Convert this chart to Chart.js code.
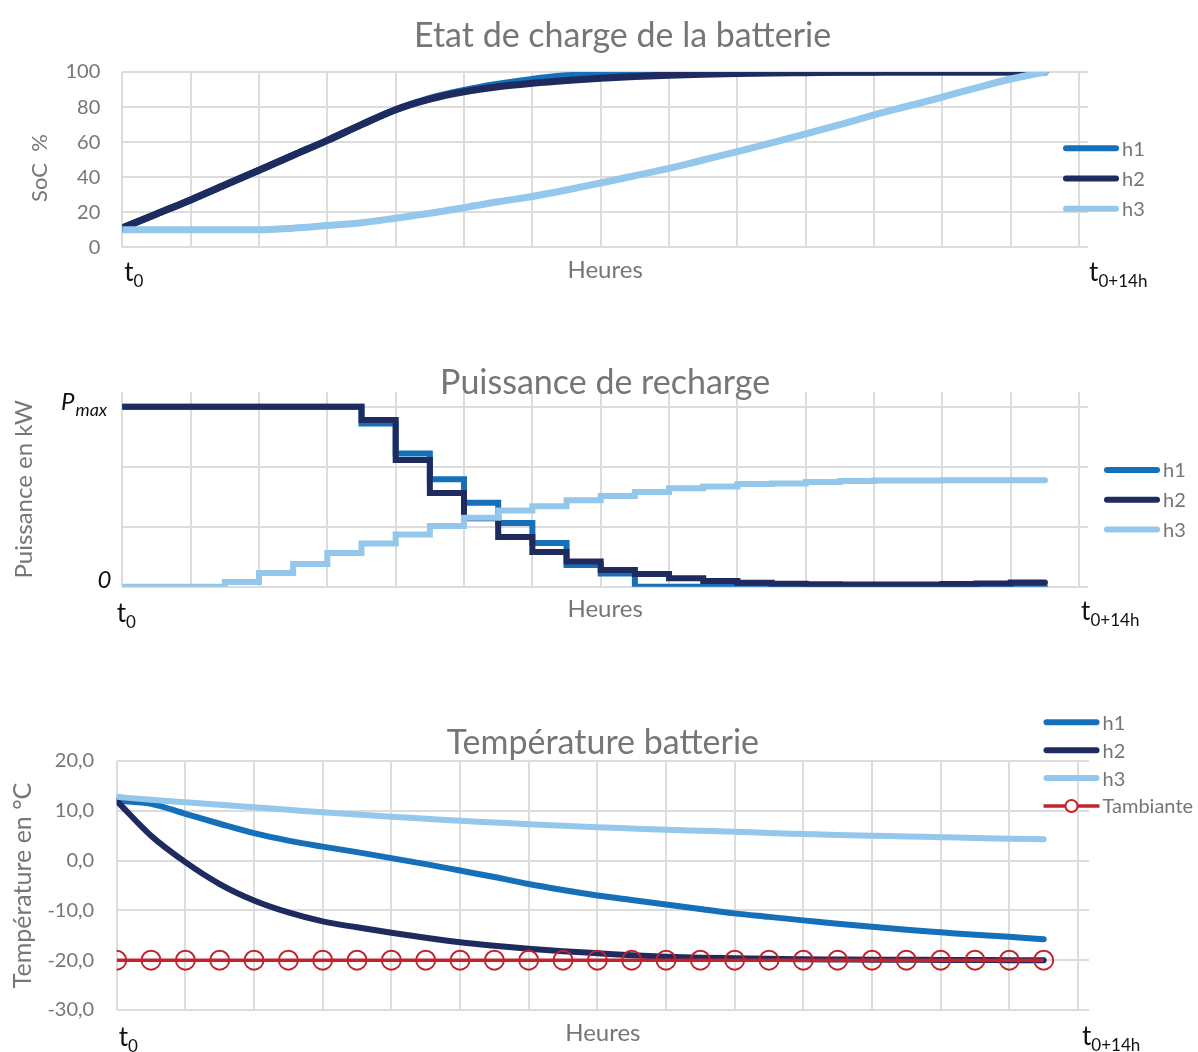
<!DOCTYPE html>
<html lang="fr">
<head>
<meta charset="UTF-8">
<title>Batterie - recharge</title>
<script src="https://cdn.jsdelivr.net/npm/chart.js"></script>
<style>
  html, body { margin: 0; padding: 0; background: #fff; }
  #page { position: relative; width: 1198px; height: 1052px; overflow: hidden; }
  #page canvas { position: absolute; left: 0; }
</style>
</head>
<body>
<div id="page">
  <canvas id="socChart" width="1198" height="310" style="top:0px"></canvas>
  <canvas id="powerChart" width="1198" height="320" style="top:330px"></canvas>
  <canvas id="tempChart" width="1198" height="362" style="top:690px"></canvas>
</div>
<script>
// time axis: one point every half hour, t0 .. t0+13.5h
const hours = [0, 0.5, 1, 1.5, 2, 2.5, 3, 3.5, 4, 4.5, 5, 5.5, 6, 6.5,
               7, 7.5, 8, 8.5, 9, 9.5, 10, 10.5, 11, 11.5, 12, 12.5, 13, 13.5];
const seriesNames = ['h1', 'h2', 'h3'];

// Etat de charge (%)
const socH1 = [11, 19, 27, 35.5, 44, 52.5, 61, 70, 78.5, 85, 89.5, 93, 95.8, 97.8,
               99.2, 99.8, 100, 100, 100, 100, 100, 100, 100, 100, 100, 100, 100, 100];
const socH2 = [11, 19, 27, 35.5, 44, 52.5, 61, 70, 78.5, 84.5, 88.7, 91.6, 93.6, 95.2,
               96.5, 97.5, 98.2, 98.7, 99.1, 99.4, 99.6, 99.8, 99.9, 100, 100, 100, 100, 100];
const socH3 = [10, 10, 10, 10, 10, 10.9, 12.4, 14, 16.6, 19.4, 22.6, 26, 29, 32.7,
               36.7, 40.8, 45, 49.8, 54.6, 59.6, 64.7, 70, 75.5, 80.6, 85.7, 91, 96, 100];

// Puissance de recharge (unités de grille, Pmax = 3), valeur du créneau qui finit au point
const powerH1 = [3, 3, 3, 3, 3, 3, 3, 3, 2.72, 2.22, 1.79, 1.40, 1.06, 0.73,
                 0.36, 0.22, 0, 0, 0, 0, 0, 0, 0, 0, 0, 0, 0, 0];
const powerH2 = [3, 3, 3, 3, 3, 3, 3, 3, 2.78, 2.11, 1.56, 1.14, 0.83, 0.58,
                 0.42, 0.28, 0.21, 0.14, 0.095, 0.067, 0.05, 0.04, 0.035, 0.035, 0.035, 0.045, 0.055, 0.07];
const powerH3 = [0, 0, 0, 0, 0.08, 0.23, 0.38, 0.56, 0.72, 0.87, 1.01, 1.15, 1.27, 1.34,
                 1.44, 1.51, 1.58, 1.64, 1.67, 1.71, 1.72, 1.745, 1.76, 1.77, 1.77, 1.775, 1.775, 1.775];
const powerTickLabels = { 0: '0', 3: 'P' };

// Température batterie (°C)
const tempH1 = [12, 11.4, 9.4, 7.4, 5.5, 4.0, 2.8, 1.7, 0.5, -0.7, -2.0, -3.3, -4.7, -5.9,
                -7.0, -7.9, -8.8, -9.7, -10.6, -11.3, -12.0, -12.7, -13.3, -13.9, -14.4, -14.9, -15.3, -15.8];
const tempH2 = [12, 5.0, -0.3, -4.7, -8.0, -10.4, -12.2, -13.4, -14.5, -15.5, -16.4, -17.1, -17.7, -18.2,
                -18.6, -19.0, -19.3, -19.5, -19.6, -19.7, -19.8, -19.85, -19.9, -19.9, -19.95, -19.95, -20, -20];
const tempH3 = [12.8, 12.2, 11.7, 11.2, 10.7, 10.2, 9.7, 9.25, 8.8, 8.4, 8.0, 7.65, 7.3, 7.0,
                6.7, 6.45, 6.2, 6.0, 5.8, 5.55, 5.35, 5.15, 5.0, 4.85, 4.7, 4.55, 4.4, 4.3];
const tempAmbient = [-20, -20, -20, -20, -20, -20, -20, -20, -20, -20, -20, -20, -20, -20,
                     -20, -20, -20, -20, -20, -20, -20, -20, -20, -20, -20, -20, -20, -20];

const colors = ['#1570b9', '#1f2a5f', '#93c7eb'];
const red = '#c1242c';
const gray = '#767676';
const gridColor = '#dcdcdc';

Chart.defaults.font.family = 'Lato, "Noto Sans", sans-serif';

// legend drawn by hand so it can sit over the plot like in the original
const sideLegend = {
  id: 'sideLegend',
  afterDraw(chart, args, opts) {
    const ctx = chart.ctx;
    chart.data.datasets.forEach((ds, i) => {
      const y = opts.y + i * opts.gap;
      const x0 = opts.x, x1 = opts.x + opts.length;
      ctx.save();
      ctx.strokeStyle = ds.borderColor;
      ctx.beginPath();
      if (ds.pointRadius) {
        ctx.lineWidth = ds.borderWidth;
        ctx.lineCap = 'butt';
        ctx.moveTo(x0, y); ctx.lineTo(x1, y); ctx.stroke();
        ctx.beginPath();
        ctx.lineWidth = ds.pointBorderWidth;
        ctx.fillStyle = '#fff';
        ctx.arc((x0 + x1) / 2, y, opts.markerRadius, 0, Math.PI * 2);
        ctx.fill(); ctx.stroke();
      } else {
        ctx.lineWidth = opts.lineWidth;
        ctx.lineCap = 'round';
        ctx.moveTo(x0 + 3, y); ctx.lineTo(x1 - 3, y); ctx.stroke();
      }
      ctx.fillStyle = gray;
      ctx.font = opts.font;
      ctx.textBaseline = 'middle';
      ctx.fillText(ds.label, x1 + opts.pad, y + 1);
      ctx.restore();
    });
  }
};

// t0 / t0+14h / Pmax labels with subscripts
const notes = {
  id: 'notes',
  afterDraw(chart, args, opts) {
    const ctx = chart.ctx;
    const area = chart.chartArea;
    (opts.items || []).forEach(it => {
      const scale = chart.scales[it.axis];
      let x, y;
      if (it.axis === 'x') {
        x = scale.getPixelForValue(it.value) + it.dx;
        y = area.bottom + it.dy;
      } else {
        x = area.left + it.dx;
        y = scale.getPixelForValue(it.value) + it.dy;
      }
      ctx.save();
      ctx.fillStyle = '#111';
      ctx.textAlign = 'left';
      ctx.textBaseline = 'alphabetic';
      ctx.font = it.font;
      ctx.fillText(it.text, x, y);
      if (it.sub) {
        const w = ctx.measureText(it.text).width;
        ctx.font = it.subFont;
        ctx.fillText(it.sub, x + w + (it.subGap || 0), y + it.subDy);
      }
      ctx.restore();
    });
  }
};

function timeNotes(dy0, dyEnd, dx0, dxEnd) {
  return [
    { axis: 'x', value: 0, dx: dx0, dy: dy0, text: 't', font: '26px Lato', sub: '0', subFont: '17px Lato', subDy: 6 },
    { axis: 'x', value: 14, dx: dxEnd, dy: dyEnd, text: 't', font: '26px Lato', sub: '0+14h', subFont: '17px Lato', subDy: 6 }
  ];
}

function chartTitle(text, top, bottom) {
  return { display: true, fullSize: false, text: text, color: gray,
           font: { size: 34, weight: 'normal' }, padding: { top: top, bottom: bottom } };
}

function xScale(max, titlePadBottom) {
  return {
    type: 'linear', min: 0, max: max, bounds: 'data',
    ticks: { stepSize: 1, includeBounds: false, display: false },
    grid: { color: gridColor, lineWidth: 2, drawTicks: false },
    border: { display: false },
    title: { display: true, text: 'Heures', color: gray, font: { size: 24 }, padding: { top: 0, bottom: titlePadBottom } },
    afterFit: s => { s.height = 40; }
  };
}

function lineSet(label, data, color, width, order) {
  return {
    label: label, data: data, borderColor: color, backgroundColor: color,
    borderWidth: width, pointRadius: 0, fill: false, order: order,
    borderCapStyle: 'round', borderJoinStyle: 'round'
  };
}

// --- Etat de charge ---
new Chart(document.getElementById('socChart'), {
  type: 'line',
  data: {
    labels: hours,
    datasets: [
      lineSet(seriesNames[0], socH1, colors[0], 7, 3),
      lineSet(seriesNames[1], socH2, colors[1], 7, 2),
      lineSet(seriesNames[2], socH3, colors[2], 7, 1)
    ]
  },
  options: {
    responsive: false, animation: false,
    elements: { line: { cubicInterpolationMode: 'monotone' } },
    layout: { padding: { left: 0, right: 110, top: 0, bottom: 22.7 } },
    plugins: {
      legend: { display: false }, tooltip: { enabled: false },
      title: chartTitle('    Etat de charge de la batterie', 15.6, 15.6),
      sideLegend: { x: 1063, y: 148.3, gap: 30.2, length: 56, pad: 3, lineWidth: 6, font: '20px Lato' },
      notes: { items: timeNotes(34, 34, 2, 10) }
    },
    scales: {
      x: xScale(14.13, 3.1),
      y: {
        min: 0, max: 100, bounds: 'data',
        ticks: { stepSize: 20, includeBounds: false, padding: 22, color: gray, font: { size: 20 } },
        grid: { color: gridColor, lineWidth: 2, drawTicks: false },
        border: { display: false },
        title: { display: true, text: 'SoC  %   ', color: gray, font: { size: 22 }, padding: { top: 27, bottom: 0 } },
        afterFit: s => { s.width = 122.3; }
      }
    }
  },
  plugins: [sideLegend, notes]
});

// --- Puissance de recharge ---
function stepSet(label, data, color, order) {
  const ds = lineSet(label, data, color, 6, order);
  ds.stepped = 'after';
  ds.borderJoinStyle = 'miter';
  return ds;
}
new Chart(document.getElementById('powerChart'), {
  type: 'line',
  data: {
    labels: hours,
    datasets: [
      stepSet(seriesNames[0], powerH1, colors[0], 3),
      stepSet(seriesNames[1], powerH2, colors[1], 2),
      stepSet(seriesNames[2], powerH3, colors[2], 1)
    ]
  },
  options: {
    responsive: false, animation: false,
    layout: { padding: { left: 0, right: 110, top: 0, bottom: 23.3 } },
    plugins: {
      legend: { display: false }, tooltip: { enabled: false },
      title: chartTitle('Puissance de recharge', 32.6, -11.4),
      sideLegend: { x: 1104, y: 140, gap: 29.7, length: 56, pad: 3, lineWidth: 6, font: '20px Lato' },
      notes: {
        items: timeNotes(35.3, 33.3, -5.6, 2).concat([
          { axis: 'y', value: 3, dx: -61.3, dy: 3.3, text: powerTickLabels[3], font: 'italic 24px Lato',
            sub: 'max', subFont: 'italic 18px Lato', subDy: 6, subGap: 1 },
          { axis: 'y', value: 0, dx: -24.7, dy: 1.6, text: powerTickLabels[0], font: 'italic 24px Lato' }
        ])
      }
    },
    scales: {
      x: xScale(14.13, 3.5),
      y: {
        min: 0, max: 3.245, bounds: 'data',
        ticks: { stepSize: 1, includeBounds: false, display: false },
        grid: { color: gridColor, lineWidth: 2, drawTicks: false },
        border: { display: false },
        title: { display: true, text: 'Puissance en kW', color: gray, font: { size: 24 }, padding: { top: 9.6, bottom: 0 } },
        afterFit: s => { s.width = 122.3; }
      }
    }
  },
  plugins: [sideLegend, notes]
});

// --- Température batterie ---
const ambientSet = {
  label: 'Tambiante', data: tempAmbient, borderColor: red, backgroundColor: red,
  borderWidth: 3.5, pointRadius: 9.5, pointBorderWidth: 2, pointStyle: 'circle',
  pointBackgroundColor: 'rgba(0,0,0,0)', pointBorderColor: red, fill: false, order: 0
};
new Chart(document.getElementById('tempChart'), {
  type: 'line',
  data: {
    labels: hours,
    datasets: [
      lineSet(seriesNames[0], tempH1, colors[0], 6, 3),
      lineSet(seriesNames[1], tempH2, colors[1], 6, 2),
      lineSet(seriesNames[2], tempH3, colors[2], 6, 1),
      ambientSet
    ]
  },
  options: {
    responsive: false, animation: false,
    elements: { line: { cubicInterpolationMode: 'monotone' } },
    layout: { padding: { left: 0, right: 109, top: 0, bottom: 2 } },
    plugins: {
      legend: { display: false }, tooltip: { enabled: false },
      title: chartTitle('Température batterie', 32.6, -2.4),
      sideLegend: { x: 1043.5, y: 32.3, gap: 27.9, length: 56, pad: 3, lineWidth: 6, markerRadius: 6, font: '20px Lato' },
      notes: { items: timeNotes(36, 35, 2, 4) }
    },
    scales: {
      x: xScale(14.16, 2.8),
      y: {
        min: -30, max: 20, bounds: 'data',
        ticks: { stepSize: 10, includeBounds: false, padding: 22.5, color: gray, font: { size: 20 },
                 callback: v => v.toFixed(1).replace('.', ',') },
        grid: { color: gridColor, lineWidth: 2, drawTicks: false },
        border: { display: false },
        title: { display: true, text: 'Température en °C', color: gray, font: { size: 25 }, padding: { top: 8, bottom: 0 } },
        afterFit: s => { s.width = 116.7; }
      }
    }
  },
  plugins: [sideLegend, notes]
});
</script>
</body>
</html>
